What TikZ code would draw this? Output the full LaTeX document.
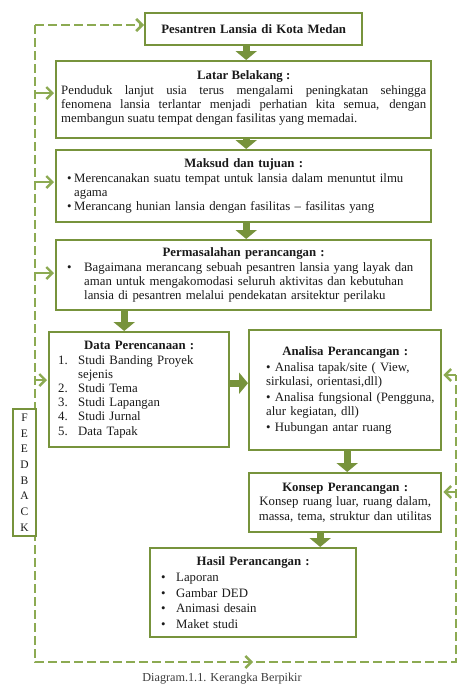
\documentclass[tikz,border=0pt]{standalone}
\usepackage{fontspec}
\setmainfont{Liberation Serif}
\usetikzlibrary{arrows.meta,calc}
\definecolor{boxg}{HTML}{77933C}
\definecolor{dashg}{HTML}{8CAA52}
\definecolor{txt}{HTML}{1A1A1A}
\setlength{\parindent}{0pt}
\hyphenpenalty=10000
\exhyphenpenalty=10000
\newcommand\hd[1]{{\centering\textbf{#1}\par}}
\newcommand\itm[3]{\par\hangindent=#1\hangafter=1\noindent\hbox to #1{#2\hfil}#3\par}
\newcommand\itmb[2]{\par\hangindent=#1\hangafter=0\noindent\textbullet\ #2\par}
\begin{document}
\begin{tikzpicture}[x=1pt,y=-1pt,
  box/.style={draw=boxg,line width=2.4pt,fill=white,inner xsep=4pt,inner ysep=2pt,
    anchor=north west,align=left,text=txt,font=\fontsize{12.8}{14.2}\selectfont},
  fat/.style={boxg,line width=7pt,-{Triangle[length=9pt,width=21pt]}},
  fbline/.style={dashg,line width=2.6pt,dash pattern=on 9pt off 4pt},
  fbarrow/.style={dashg,line width=2.4pt,-{Straight Barb[length=6pt,width=12pt]}},
  fbbox/.style={draw=boxg,line width=2pt,fill=white,anchor=north west,align=center,
    inner sep=0pt,text=txt,font=\fontsize{11.5}{15.7}\selectfont},
  captxt/.style={text=txt!85,font=\fontsize{12.2}{14}\selectfont}
]
\useasboundingbox (0,0) rectangle (457,688);

% feedback loop coordinates
\coordinate (tl) at (35,25);
\coordinate (bl) at (35,662);
\coordinate (br) at (456,662);
\coordinate (tr) at (456,375);
\coordinate (a1) at (35,93);
\coordinate (a2) at (35,182);
\coordinate (a3) at (35,273);
\coordinate (a4) at (35,380);
\coordinate (r2) at (456,492);
\coordinate (hb) at (247,662);

\draw[fbline] (tl) -- (bl) -- (br) -- (tr);

% boxes
\node[box,minimum width=217pt,minimum height=32pt,text width=209pt,align=center] (title) at (144,12)
  {\textbf{Pesantren Lansia di Kota Medan}};

\node[box,minimum width=375pt,minimum height=77pt,text width=365pt,align=justify] (latar) at (55,60)
  {\hd{Latar Belakang :}\noindent Penduduk lanjut usia terus mengalami peningkatan sehingga\linebreak
   fenomena lansia terlantar menjadi perhatian kita semua, dengan\linebreak
   membangun suatu tempat dengan fasilitas yang memadai.\par\vspace*{3pt}};

\node[box,minimum width=375pt,minimum height=72pt,text width=367pt] (maksud) at (55,149)
  {\hd{Maksud dan tujuan :}%
   \itm{14pt}{\hspace{7pt}\textbullet}{Merencanakan suatu tempat untuk lansia dalam menuntut ilmu\newline agama}%
   \itm{14pt}{\hspace{7pt}\textbullet}{Merancang hunian lansia dengan fasilitas -- fasilitas yang}};

\node[box,minimum width=375pt,minimum height=70pt,text width=367pt] (perma) at (55,239)
  {\hd{Permasalahan perancangan :}%
   \itm{24pt}{\hspace{7pt}\textbullet}{Bagaimana merancang sebuah pesantren lansia yang layak dan\newline
    aman untuk mengakomodasi seluruh aktivitas dan kebutuhan\newline
    lansia di pesantren melalui pendekatan arsitektur perilaku}};

\node[box,minimum width=180pt,minimum height=115pt,text width=172pt] (data) at (48,331)
  {\hd{Data Perencanaan :}%
   \itm{25pt}{\hspace{5pt}1.}{Studi Banding Proyek\newline sejenis}%
   \itm{25pt}{\hspace{5pt}2.}{Studi Tema}%
   \itm{25pt}{\hspace{5pt}3.}{Studi Lapangan}%
   \itm{25pt}{\hspace{5pt}4.}{Studi Jurnal}%
   \itm{25pt}{\hspace{5pt}5.}{Data Tapak}};

\node[box,minimum width=190pt,minimum height=120pt,text width=184pt] (analisa) at (248,329)
  {\hd{Analisa Perancangan :}\vspace{1.5pt}%
   \itmb{13pt}{Analisa tapak/site ( View,\newline sirkulasi, orientasi,dll)}\vspace{1.5pt}%
   \itmb{13pt}{\rlap{Analisa fungsional (Pengguna,}\newline alur kegiatan, dll)}\vspace{1.5pt}%
   \itmb{13pt}{Hubungan antar ruang}};

\node[box,minimum width=190pt,minimum height=59pt,text width=184pt,align=center] (konsep) at (248,472)
  {\textbf{Konsep Perancangan :}\\Konsep ruang luar, ruang dalam,\\massa, tema, struktur dan utilitas};

\node[box,minimum width=206pt,minimum height=89pt,text width=198pt,font=\fontsize{12.8}{15.6}\selectfont] (hasil) at (149,547)
  {\hd{Hasil Perancangan :}%
   \itm{22pt}{\hspace{7pt}\textbullet}{Laporan}%
   \itm{22pt}{\hspace{7pt}\textbullet}{Gambar DED}%
   \itm{22pt}{\hspace{7pt}\textbullet}{Animasi desain}%
   \itm{22pt}{\hspace{7pt}\textbullet}{Maket studi}};

\node[fbbox,minimum width=23pt,minimum height=127pt] (fb) at (12,408)
  {F\\E\\E\\D\\B\\A\\C\\K};

\node[captxt] (cap) at (222,679) {Diagram.1.1. Kerangka Berpikir};

% main flow arrows
\draw[fat] ([xshift=-7.5pt]title.south) -- ([xshift=-7.5pt]title.south |- latar.north);
\draw[fat] ([xshift=2.5pt]latar.south) -- ([xshift=2.5pt]latar.south |- maksud.north);
\draw[fat] ([xshift=2.5pt]maksud.south) -- ([xshift=2.5pt]maksud.south |- perma.north);
\draw[fat] ([xshift=-15pt]data.north |- perma.south) -- ([xshift=-15pt]data.north);
\draw[fat] ([yshift=6.5pt]data.east) -- ([yshift=6.5pt]data.east -| analisa.west);
\draw[fat] ([xshift=2pt]analisa.south) -- ([xshift=2pt]analisa.south |- konsep.north);
\draw[fat] ([xshift=-25pt]konsep.south) -- ([xshift=-25pt]konsep.south |- hasil.north);

% feedback arrows
\draw[fbline,-{Straight Barb[length=6pt,width=12pt]}] (tl) -- (tl -| title.west);
\draw[fbarrow,shorten >=1pt] (a1) -- (a1 -| latar.west);
\draw[fbarrow,shorten >=1pt] (a2) -- (a2 -| maksud.west);
\draw[fbarrow,shorten >=1pt] (a3) -- (a3 -| perma.west);
\draw[fbarrow,shorten >=1pt] (a4) -- (a4 -| data.west);
\draw[fbarrow,shorten >=1pt] (tr) -- (tr -| analisa.east);
\draw[fbarrow,shorten >=1pt] (r2) -- (r2 -| konsep.east);
\draw[fbline,-{Straight Barb[length=6pt,width=12pt]}] (hb) -- (hb -| hasil.south);
\end{tikzpicture}
\end{document}
